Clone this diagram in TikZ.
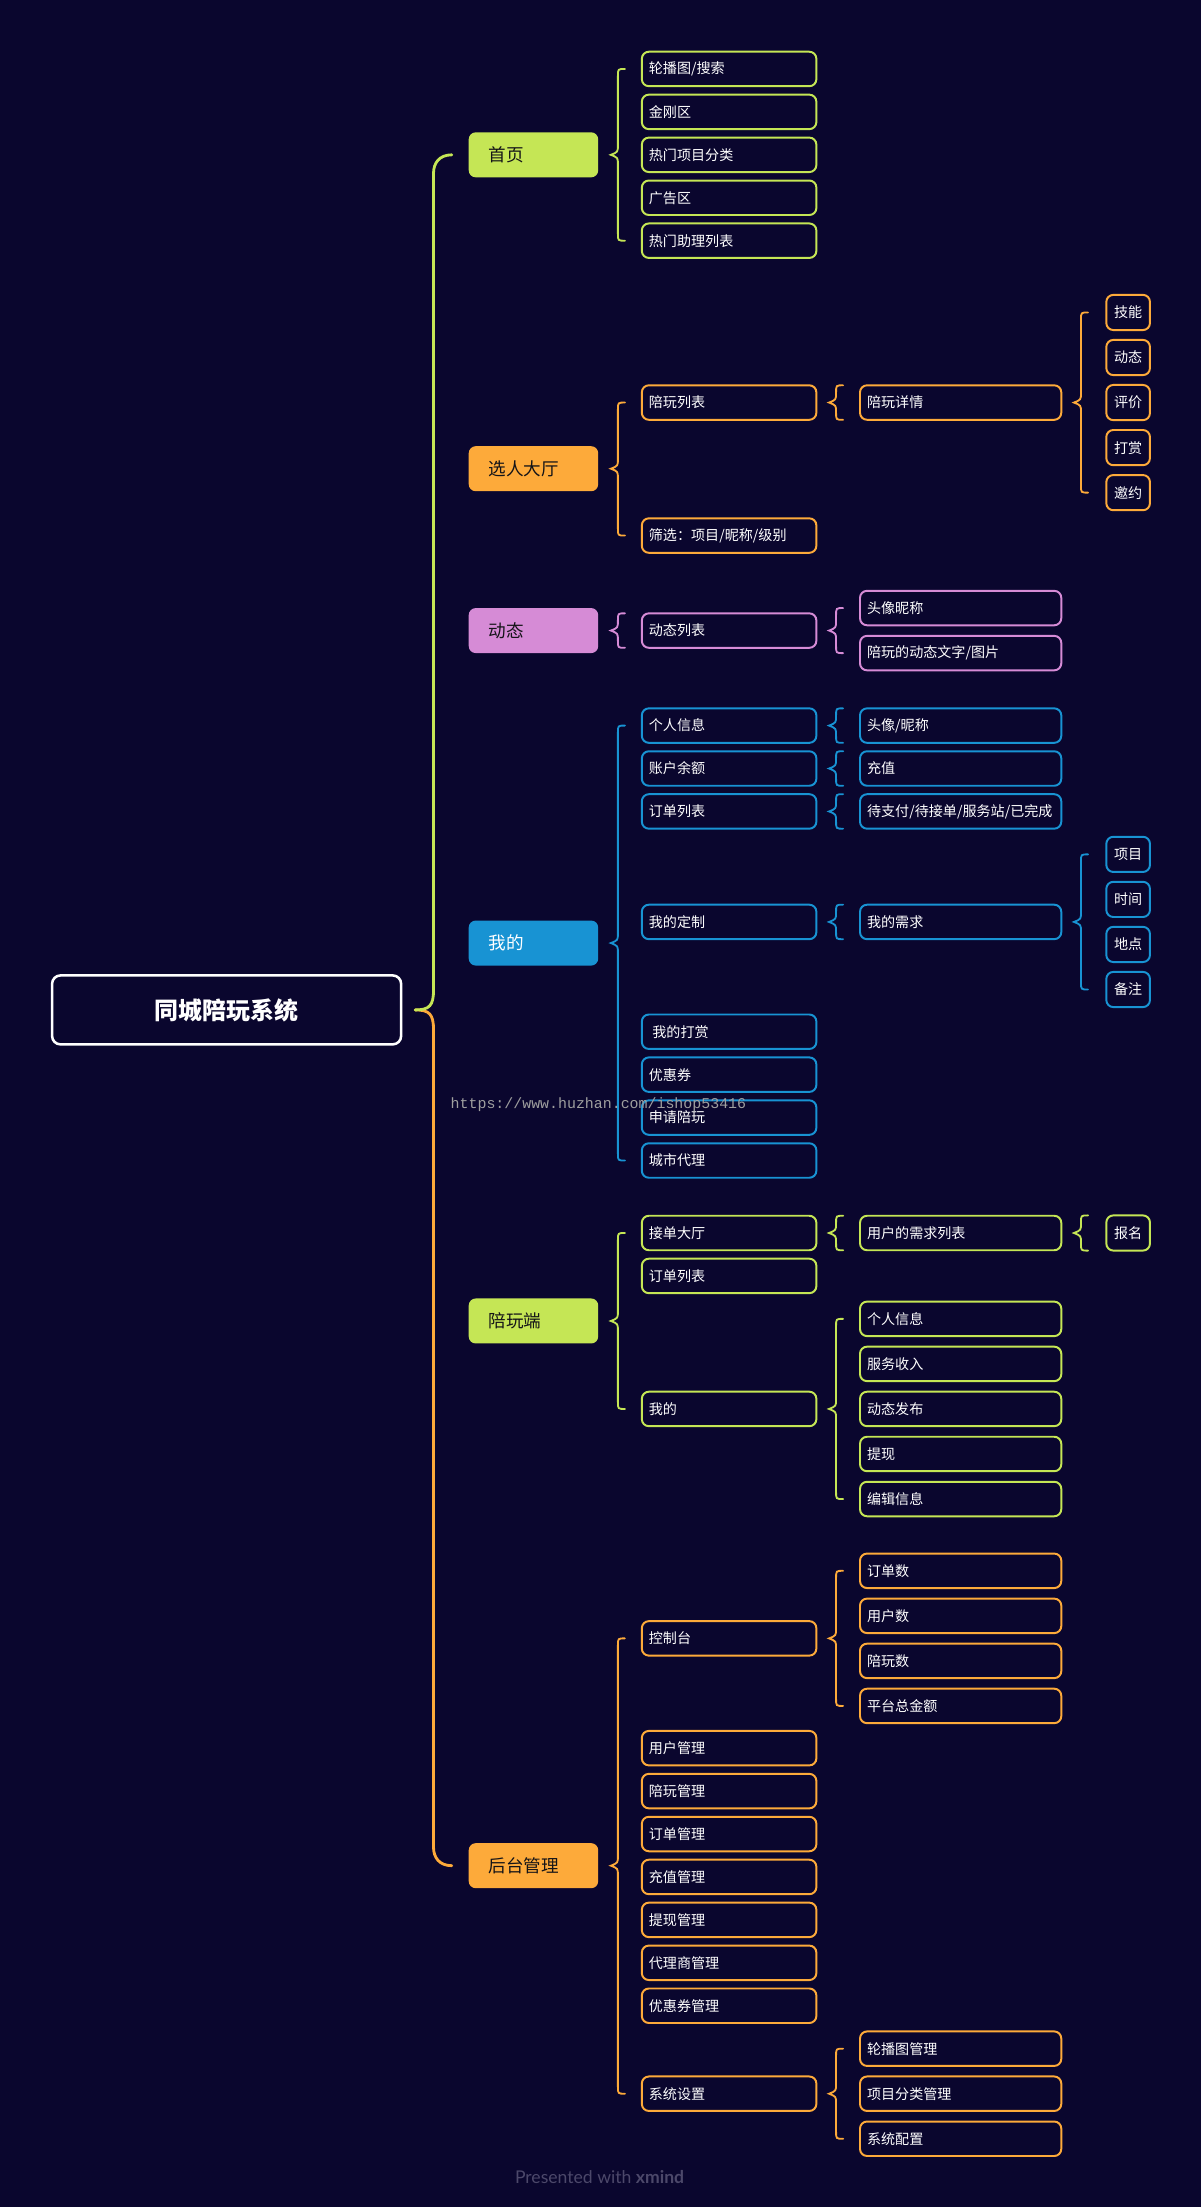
\documentclass[tikz,border=0pt]{standalone}
\usepackage{fontspec}
\newfontfamily\cjk{Noto Sans CJK SC}
\newfontfamily\footfont{Lato}
\newfontfamily\markfont{Liberation Mono}
\usetikzlibrary{positioning,calc}

\definecolor{bgNavy}{RGB}{10,6,46}
\definecolor{mmLime}{RGB}{197,230,85}
\definecolor{mmAmber}{RGB}{253,170,58}
\definecolor{mmOrchid}{RGB}{214,139,214}
\definecolor{mmAzure}{RGB}{24,147,211}
\definecolor{inkDark}{RGB}{20,20,24}
\definecolor{creditGray}{RGB}{76,72,106}

% curly brace from a parent to its children (top / bottom given as anchors)
\newcommand\bracelink[4]{%
  \draw[bracel, #1] let \p1=(#2.east), \p2=(#3), \p3=(#4) in
    (\x1+19pt,\y2) .. controls (\x1+14pt,\y2) .. (\x1+14pt,\y2-5pt)
    -- (\x1+14pt,\y1+7pt) .. controls (\x1+14pt,\y1+2pt) .. (\x1+9pt,\y1)
    .. controls (\x1+14pt,\y1-2pt) .. (\x1+14pt,\y1-7pt)
    -- (\x1+14pt,\y3+5pt) .. controls (\x1+14pt,\y3) .. (\x1+19pt,\y3);}

\begin{document}
\begin{tikzpicture}[
    x=1pt, y=-1pt,
    rootbox/.style={draw=white, line width=1.8pt, rounded corners=6pt, fill=bgNavy, minimum width=248pt, minimum height=49pt, font=\cjk\bfseries\fontsize{17}{20}\selectfont, text=white, outer sep=0pt},
    topic/.style={fill=#1, rounded corners=5pt, minimum height=32pt, text width=64pt, inner xsep=14pt, align=left, font=\cjk\fontsize{12.5}{15}\selectfont, text=inkDark, outer sep=0pt},
    leaf/.style={draw=#1, line width=1.4pt, rounded corners=5pt, fill=bgNavy, text width=114pt, inner xsep=5pt, minimum height=24.5pt, align=left, font=\cjk\fontsize{10}{12}\selectfont, text=white, outer sep=0pt},
    wideleaf/.style={leaf=#1, text width=133pt},
    tagbox/.style={draw=#1, line width=1.4pt, rounded corners=5pt, fill=bgNavy, minimum width=31pt, minimum height=25pt, inner xsep=0pt, align=center, font=\cjk\fontsize{10}{12}\selectfont, text=white, outer sep=0pt},
    bracel/.style={line width=1.3pt, line cap=round},
    trunk/.style={line width=2pt, line cap=round}
]
    \fill[bgNavy] (0,0) rectangle (853,1568);
    \useasboundingbox (0,0) rectangle (853,1568);

    \node (root) [rootbox] at (161,717.5) {同城陪玩系统};

    % main topics
    \node (home) [topic=mmLime, anchor=west] at (333,110) {首页};
    \node (hall) [topic=mmAmber, anchor=west] at (333,333) {选人大厅};
    \node (feed) [topic=mmOrchid, anchor=west] at (333,448) {动态};
    \node (mine) [topic=mmAzure, text=white, anchor=west] at (333,670) {我的};
    \node (pwside) [topic=mmLime, anchor=west] at (333,938.5) {陪玩端};
    \node (admin) [topic=mmAmber, anchor=west] at (333,1325.5) {后台管理};

    % 首页
    \node (h3) [leaf=mmLime, right=31pt of home] {热门项目分类};
    \node (h2) [leaf=mmLime, above=6pt of h3] {金刚区};
    \node (h1) [leaf=mmLime, above=6pt of h2] {轮播图/搜索};
    \node (h4) [leaf=mmLime, below=6pt of h3] {广告区};
    \node (h5) [leaf=mmLime, below=6pt of h4] {热门助理列表};

    % 选人大厅
    \node (pwlist) [leaf=mmAmber, right=31pt of hall, yshift=47pt] {陪玩列表};
    \node (filter) [leaf=mmAmber, right=31pt of hall, yshift=-47.5pt] {筛选：项目/昵称/级别};
    \node (detail) [wideleaf=mmAmber, right=31pt of pwlist] {陪玩详情};
    \node (d3) [tagbox=mmAmber, right=32pt of detail] {评价};
    \node (d2) [tagbox=mmAmber, above=7pt of d3] {动态};
    \node (d1) [tagbox=mmAmber, above=7pt of d2] {技能};
    \node (d4) [tagbox=mmAmber, below=7pt of d3] {打赏};
    \node (d5) [tagbox=mmAmber, below=7pt of d4] {邀约};

    % 动态
    \node (feedlist) [leaf=mmOrchid, right=31pt of feed] {动态列表};
    \node (f1) [wideleaf=mmOrchid, right=31pt of feedlist, yshift=16pt] {头像昵称};
    \node (f2) [wideleaf=mmOrchid, below=7.5pt of f1] {陪玩的动态文字/图片};

    % 我的
    \node (m1) [leaf=mmAzure, right=31pt of mine, yshift=154.5pt] {个人信息};
    \node (m2) [leaf=mmAzure, below=6pt of m1] {账户余额};
    \node (m3) [leaf=mmAzure, below=6pt of m2] {订单列表};
    \node (m4) [leaf=mmAzure, right=31pt of mine, yshift=15pt] {我的定制};
    \node (m5) [leaf=mmAzure, right=31pt of mine, yshift=-63pt] {\hspace{2.5pt}我的打赏};
    \node (m6) [leaf=mmAzure, below=6pt of m5] {优惠券};
    \node (m7) [leaf=mmAzure, below=6pt of m6] {申请陪玩};
    \node (m8) [leaf=mmAzure, below=6pt of m7] {城市代理};
    \node (mm1) [wideleaf=mmAzure, right=31pt of m1] {头像/昵称};
    \node (mm2) [wideleaf=mmAzure, right=31pt of m2] {充值};
    \node (mm3) [wideleaf=mmAzure, right=31pt of m3] {待支付/待接单/服务站/已完成};
    \node (mm4) [wideleaf=mmAzure, right=31pt of m4] {我的需求};
    \node (q2) [tagbox=mmAzure, right=32pt of mm4, yshift=16pt] {时间};
    \node (q1) [tagbox=mmAzure, above=7pt of q2] {项目};
    \node (q3) [tagbox=mmAzure, below=7pt of q2] {地点};
    \node (q4) [tagbox=mmAzure, below=7pt of q3] {备注};

    % 陪玩端
    \node (p1) [leaf=mmLime, right=31pt of pwside, yshift=62.5pt] {接单大厅};
    \node (p2) [leaf=mmLime, below=6pt of p1] {订单列表};
    \node (p3) [leaf=mmLime, right=31pt of pwside, yshift=-62.5pt] {我的};
    \node (pp1) [wideleaf=mmLime, right=31pt of p1] {用户的需求列表};
    \node (pq) [tagbox=mmLime, right=32pt of pp1] {报名};
    \node (pm3) [wideleaf=mmLime, right=31pt of p3] {动态发布};
    \node (pm2) [wideleaf=mmLime, above=7.5pt of pm3] {服务收入};
    \node (pm1) [wideleaf=mmLime, above=7.5pt of pm2] {个人信息};
    \node (pm4) [wideleaf=mmLime, below=7.5pt of pm3] {提现};
    \node (pm5) [wideleaf=mmLime, below=7.5pt of pm4] {编辑信息};

    % 后台管理
    \node (a1) [leaf=mmAmber, right=31pt of admin, yshift=161.5pt] {控制台};
    \node (a2) [leaf=mmAmber, right=31pt of admin, yshift=83.5pt] {用户管理};
    \node (a3) [leaf=mmAmber, below=6pt of a2] {陪玩管理};
    \node (a4) [leaf=mmAmber, below=6pt of a3] {订单管理};
    \node (a5) [leaf=mmAmber, below=6pt of a4] {充值管理};
    \node (a6) [leaf=mmAmber, below=6pt of a5] {提现管理};
    \node (a7) [leaf=mmAmber, below=6pt of a6] {代理商管理};
    \node (a8) [leaf=mmAmber, below=6pt of a7] {优惠券管理};
    \node (a9) [leaf=mmAmber, right=31pt of admin, yshift=-162pt] {系统设置};
    \node (ac2) [wideleaf=mmAmber, right=31pt of a1, yshift=16pt] {用户数};
    \node (ac1) [wideleaf=mmAmber, above=7.5pt of ac2] {订单数};
    \node (ac3) [wideleaf=mmAmber, below=7.5pt of ac2] {陪玩数};
    \node (ac4) [wideleaf=mmAmber, below=7.5pt of ac3] {平台总金额};
    \node (as2) [wideleaf=mmAmber, right=31pt of a9] {项目分类管理};
    \node (as1) [wideleaf=mmAmber, above=7.5pt of as2] {轮播图管理};
    \node (as3) [wideleaf=mmAmber, below=7.5pt of as2] {系统配置};

    % trunk from the central topic
    \draw[trunk, mmAmber] let \p1=([xshift=10pt]root.east), \p2=(admin.west) in
        (\p1) .. controls (\x1+10pt,\y1) and (\x1+13pt,\y1-3pt) .. (\x1+13pt,\y1-14pt)
        -- (\x1+13pt,\y2+13pt) .. controls (\x1+13pt,\y2+6pt) and (\x1+17pt,\y2) .. (\x2-12pt,\y2);
    \draw[trunk, mmLime] let \p1=([xshift=10pt]root.east), \p2=(home.west) in
        (\p1) .. controls (\x1+10pt,\y1) and (\x1+13pt,\y1+3pt) .. (\x1+13pt,\y1+14pt)
        -- (\x1+13pt,\y2-13pt) .. controls (\x1+13pt,\y2-6pt) and (\x1+17pt,\y2) .. (\x2-12pt,\y2);

    % braces
    \bracelink{mmLime}{home}{h1.west}{h5.west}
    \bracelink{mmAmber}{hall}{pwlist.west}{filter.west}
    \bracelink{mmAmber}{pwlist}{detail.north west}{detail.south west}
    \bracelink{mmAmber}{detail}{d1.west}{d5.west}
    \bracelink{mmOrchid}{feed}{feedlist.north west}{feedlist.south west}
    \bracelink{mmOrchid}{feedlist}{f1.west}{f2.west}
    \bracelink{mmAzure}{mine}{m1.west}{m8.west}
    \bracelink{mmAzure}{m1}{mm1.north west}{mm1.south west}
    \bracelink{mmAzure}{m2}{mm2.north west}{mm2.south west}
    \bracelink{mmAzure}{m3}{mm3.north west}{mm3.south west}
    \bracelink{mmAzure}{m4}{mm4.north west}{mm4.south west}
    \bracelink{mmAzure}{mm4}{q1.west}{q4.west}
    \bracelink{mmLime}{pwside}{p1.west}{p3.west}
    \bracelink{mmLime}{p1}{pp1.north west}{pp1.south west}
    \bracelink{mmLime}{pp1}{pq.north west}{pq.south west}
    \bracelink{mmLime}{p3}{pm1.west}{pm5.west}
    \bracelink{mmAmber}{admin}{a1.west}{a9.west}
    \bracelink{mmAmber}{a1}{ac1.west}{ac4.west}
    \bracelink{mmAmber}{a9}{as1.west}{as3.west}

    \node (credit) [font=\footfont\fontsize{12.5}{15}\selectfont, text=creditGray] at (426,1547) {Presented with \textbf{xmind}};
    \node (mark) [font=\markfont\fontsize{10.6}{12}\selectfont, text=gray!75, anchor=west, inner sep=0pt] at (320,784.5) {https://www.huzhan.com/ishop53416};
\end{tikzpicture}
\end{document}
